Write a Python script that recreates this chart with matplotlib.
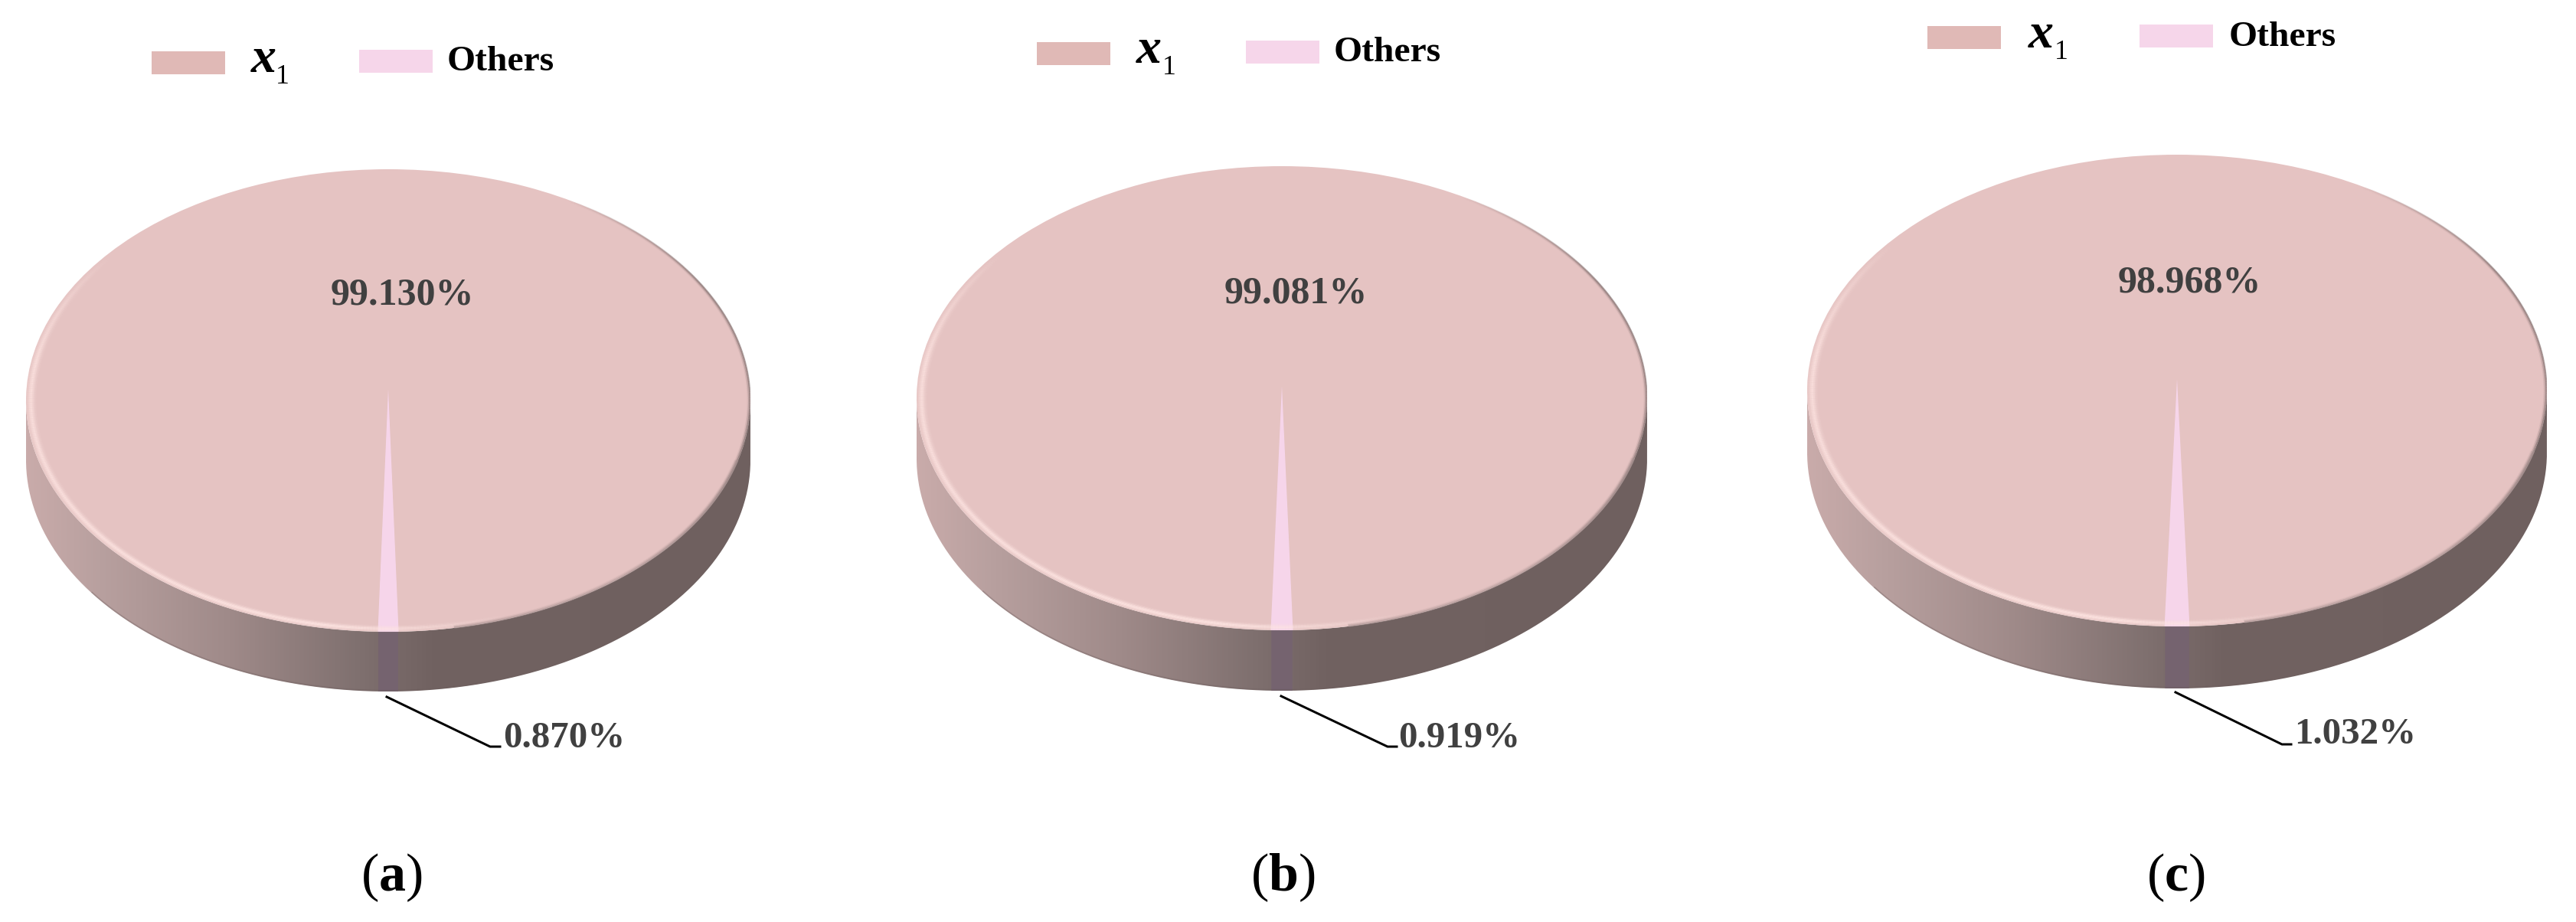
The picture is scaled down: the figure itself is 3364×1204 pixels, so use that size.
import numpy as np
import matplotlib
matplotlib.use("Agg")
import matplotlib.pyplot as plt
from matplotlib.collections import LineCollection
from matplotlib.colors import LinearSegmentedColormap, to_rgb
from matplotlib.patches import Ellipse, PathPatch, Polygon, Rectangle
from matplotlib.path import Path

# ---- data ----
panels = ["a", "b", "c"]
x1_share = [99.130, 99.081, 98.968]
others_share = [0.870, 0.919, 1.032]
legend_labels = ["Others"]

# ---- layout, in reference pixels ----
W, H = 3364, 1204
centers_x = [507, 1674, 2843]
centers_y = [523, 520, 510]
radii_x = [473, 477, 483]
radii_y = [302, 303, 308]
depths = [78, 79, 81]
apex_lift = [15, 16, 15]
main_label_xy = [(525, 397), (1692, 396), (2859, 381)]
small_label_xy = [(657, 976), (1826, 976), (2996, 971)]
leaders = [[(505, 910), (640, 975), (653, 975)],
           [(1673, 909), (1812, 975), (1824, 975)],
           [(2841, 904), (2980, 972), (2992, 972)]]
caption_x = [511, 1675, 2841]
caption_base = 1163
legend_cfg = [
    dict(s1=(198, 67), xt=(328, 94), sub=(360, 109), s2=(469, 65), ot=(584, 92)),
    dict(s1=(1354, 55), xt=(1484, 82), sub=(1518, 97), s2=(1627, 53), ot=(1742, 80)),
    dict(s1=(2517, 34), xt=(2649, 62), sub=(2683, 77), s2=(2794, 32), ot=(2911, 60)),
]

# ---- style ----
FACE = "#e5c3c2"
OTHER = "#f6d5ea"
LEG1 = "#e0b9b6"
LEG2 = "#f6d6ea"
TXT = "#404040"
PX = 0.72  # pixels -> points at dpi 100
wall_cmap = LinearSegmentedColormap.from_list(
    "wall",
    [(0.0, "#c9abaa"), (0.10, "#b8a09f"), (0.28, "#9f8a89"),
     (0.46, "#7f706f"), (0.56, "#716261"), (1.0, "#6f605f")],
)

plt.rcParams["font.family"] = ["Liberation Serif", "DejaVu Serif"]
plt.rcParams["mathtext.fontset"] = "custom"
plt.rcParams["mathtext.rm"] = "Liberation Serif"
plt.rcParams["mathtext.bf"] = "Liberation Serif:bold"
plt.rcParams["mathtext.it"] = "Liberation Serif:italic"

fig = plt.figure(figsize=(W / 100, H / 100), dpi=100, facecolor="white")


def rim(ax, radii, colors_fn):
    """Concentric soft bevel lines following the ellipse, coloured by angle."""
    th = np.radians(np.linspace(0, 360, 721))
    for r, weight in radii:
        pts = np.column_stack([r * np.cos(th), r * np.sin(th)])
        segs = np.stack([pts[:-1], pts[1:]], axis=1)
        cols = colors_fn(np.degrees(th[:-1]), weight)
        lc = LineCollection(segs, colors=cols, linewidths=2.2 * PX, zorder=3,
                            capstyle="butt")
        ax.add_collection(lc)


def light_colors(deg, weight):
    d = (deg - 215 + 180) % 360 - 180
    a = np.clip(1 - (np.abs(d) - 45) / 30, 0, 1)
    out = np.ones((deg.size, 4))
    out[:, :3] = to_rgb("#ffe6e3")
    out[:, 3] = a * weight
    return out


def dark_colors(deg, weight):
    d = (deg - 5 + 180) % 360 - 180
    a = np.clip(1 - (np.abs(d) - 25) / 30, 0, 1)
    out = np.ones((deg.size, 4))
    out[:, :3] = to_rgb("#716261")
    out[:, 3] = a * weight
    return out


def lower_blur(deg, weight):
    # soft transition from face to the dark wall on the lower right
    a = np.where((deg > 280) & (deg < 345), 1.0, 0.0)
    out = np.ones((deg.size, 4))
    out[:, :3] = to_rgb("#a89291")
    out[:, 3] = a * weight
    return out


for i in range(3):
    cx, cy, rx, ry, dp = centers_x[i], centers_y[i], radii_x[i], radii_y[i], depths[i]
    d = dp / ry
    left = (cx - rx) / W
    bottom = 1 - (cy + ry + dp) / H
    ax = fig.add_axes([left, bottom, 2 * rx / W, (2 * ry + dp) / H])

    # top face: a real pie chart squeezed into an ellipse
    half = others_share[i] * 1.8
    wedges, _ = ax.pie([x1_share[i], others_share[i]], colors=[FACE, OTHER],
                       startangle=270 + half, counterclock=True, radius=1,
                       center=(0, 0), normalize=True,
                       wedgeprops=dict(linewidth=0))
    ax.set_aspect("auto")
    ax.set_xlim(-1, 1)
    ax.set_ylim(-1 - d, 1)
    ax.axis("off")

    # the thin slice converges a little above the ellipse centre
    lift = apex_lift[i] / ry
    w_other = wedges[1]
    clip = Ellipse((0, 0), 2, 2, transform=ax.transData)
    w_other.set_center((0, lift))
    w_other.set_radius(1 + lift)
    w_other.set_clip_path(clip)
    w_other.set_zorder(2)

    # side wall
    th = np.radians(np.linspace(180, 360, 361))
    top = np.column_stack([np.cos(th), np.sin(th)])
    low = np.column_stack([np.cos(th), np.sin(th) - d])[::-1]
    wall = PathPatch(Path(np.vstack([top, low, top[:1]])), fc="none", ec="none",
                     transform=ax.transData)
    ax.add_patch(wall)
    grad = np.linspace(0, 1, 512)[None, :]
    im = ax.imshow(grad, extent=(-1, 1, -1 - d, 0), aspect="auto", cmap=wall_cmap,
                   interpolation="bilinear", zorder=0)
    im.set_clip_path(wall)
    ax.set_xlim(-1, 1)
    ax.set_ylim(-1 - d, 1)

    # slice colour carried on the wall
    t1, t2 = np.radians(w_other.theta1), np.radians(w_other.theta2)
    ta = np.linspace(t1, t2, 20)
    band = np.vstack([np.column_stack([np.cos(ta), np.sin(ta)]),
                      np.column_stack([np.cos(ta), np.sin(ta) - d])[::-1]])
    ax.add_patch(Polygon(band, closed=True, fc="#75636f", ec="none", zorder=0.5))

    # darker line at the foot of the wall (left part)
    tb = np.radians(np.linspace(215, 285, 120))
    ax.plot(np.cos(tb), np.sin(tb) - d + 0.004, color="#6e5f5f", lw=1.6 * PX,
            alpha=0.35, zorder=0.6, solid_capstyle="butt")

    # bevels on the face
    rim(ax, [(0.998, 0.15), (0.994, 0.30), (0.990, 0.55), (0.986, 0.70),
             (0.982, 0.50), (0.978, 0.25), (0.974, 0.10)], light_colors)
    rim(ax, [(0.999, 0.55), (0.996, 0.28), (0.993, 0.10)], dark_colors)
    rim(ax, [(0.999, 0.55), (0.995, 0.30), (0.991, 0.12)], lower_blur)

# overlay in pixel coordinates for legends, leaders and captions
ov = fig.add_axes([0, 0, 1, 1], zorder=10)
ov.set_xlim(0, W)
ov.set_ylim(H, 0)
ov.axis("off")
ov.patch.set_alpha(0)

for i in range(3):
    lg = legend_cfg[i]
    ov.add_patch(Rectangle(lg["s1"], 96, 30, fc=LEG1, ec="none"))
    ov.add_patch(Rectangle(lg["s2"], 96, 30, fc=LEG2, ec="none"))
    ov.text(*lg["xt"], "x", fontsize=66 * PX, style="italic", weight="bold",
            color="black", va="baseline", ha="left")
    ov.text(*lg["sub"], "1", fontsize=36 * PX, color="black", va="baseline", ha="left")
    ov.text(*lg["ot"], legend_labels[0], fontsize=47.5 * PX, weight="bold",
            color="black", va="baseline", ha="left")

    mx, my = main_label_xy[i]
    ov.text(mx, my, f"{x1_share[i]:.3f}%", fontsize=50 * PX, weight="bold", color=TXT,
            va="baseline", ha="center")
    sx, sy = small_label_xy[i]
    ov.text(sx, sy, f"{others_share[i]:.3f}%", fontsize=49 * PX, weight="bold",
            color=TXT, va="baseline", ha="left")

    lx, ly = zip(*leaders[i])
    ov.plot(lx, ly, color="black", lw=3 * PX, solid_joinstyle="round")

    ov.text(caption_x[i], caption_base,
            r"$\mathrm{(}\mathbf{" + panels[i] + r"}\mathrm{)}$",
            fontsize=70 * PX, color="black", va="baseline", ha="center")

fig.savefig("out.png", dpi=100, facecolor="white")
